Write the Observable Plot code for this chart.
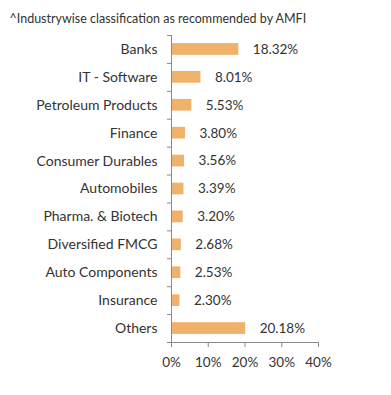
<!DOCTYPE html>
<html><head><meta charset="utf-8">
<script src="https://cdn.jsdelivr.net/npm/d3@7"></script>
<script src="https://cdn.jsdelivr.net/npm/@observablehq/plot@0.6"></script>
<style>body{margin:0;background:#fff;font-family:Lato,sans-serif}</style>
</head><body><div id="chart"></div>
<script>
const title = "^Industrywise classification as recommended by AMFI";
const categories = ["Banks","IT - Software","Petroleum Products","Finance","Consumer Durables","Automobiles","Pharma. & Biotech","Diversified FMCG","Auto Components","Insurance","Others"];
const values = [18.32,8.01,5.53,3.80,3.56,3.39,3.20,2.68,2.53,2.30,20.18];
const xTicks = [0,10,20,30,40];
const data = categories.map((c,i)=>({c, v: values[i]}));
const W = 391, H = 395, mt = 35, mb = 53, ml = 171, mr = 73;
const step = (H - mt - mb) / categories.length;
const grey = "#8a8a8a", txt = "#333";
const plot = Plot.plot({
  width: W, height: H, marginTop: mt, marginBottom: mb, marginLeft: ml, marginRight: mr,
  style: {fontFamily: "Lato, sans-serif", fontSize: "13px", color: txt, background: "#fff"},
  x: {domain: [0,40], ticks: xTicks, tickFormat: d => d + "%"},
  y: {domain: categories, paddingInner: 0.58, paddingOuter: 0.29, round: false},
  marks: [
    Plot.barX(data, {x: "v", y: "c", fill: "#f0b26b"}),
    Plot.text(data, {x: "v", y: "c", text: d => d.v.toFixed(2) + "%", textAnchor: "start", dx: 14, fill: txt, fontSize: 13.5}),
    Plot.axisY({tickSize: 0, tickPadding: 14, fontSize: 14, fill: txt, label: null}),
    Plot.axisY({text: null, tickSize: 4, stroke: grey, dy: -step/2, label: null}),
    Plot.axisY({text: null, tickSize: 4, stroke: grey, dy: step/2, ticks: [categories[categories.length-1]], label: null}),
    Plot.frame({anchor: "left", stroke: grey}),
    Plot.frame({anchor: "bottom", stroke: grey}),
    Plot.axisX({ticks: xTicks, tickFormat: d => d + "%", tickSize: 5, tickPadding: 10, stroke: grey, fill: txt, fontSize: 13.5, label: null}),
    Plot.text([title], {text: d => d, frameAnchor: "top-left", dx: 9 - ml, dy: 14 - mt, textAnchor: "start", fontSize: 12.5, fill: txt})
  ]
});
document.getElementById("chart").appendChild(plot);
</script></body></html>
